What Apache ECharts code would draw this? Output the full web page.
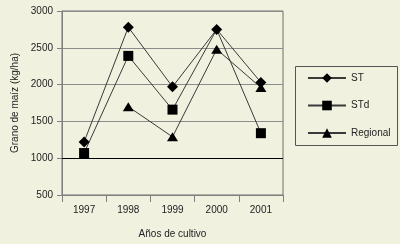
<!DOCTYPE html>
<html><head><meta charset="utf-8">
<script src="https://cdn.jsdelivr.net/npm/echarts@6/dist/echarts.min.js"></script>
<style>html,body{margin:0;padding:0;background:#f1f1e0;}#c{width:400px;height:244px;}</style>
</head><body><div id="c"></div>
<script>
var years = ['1997','1998','1999','2000','2001'];
var ST = [1220, 2780, 1970, 2750, 2030];
var STd = [1070, 2390, 1660, 2750, 1340];
var Regional = [null, 1700, 1290, 2480, 1960];
var yTicks = {min: 500, max: 3000, step: 500};
var refLine = 1000;

var font = 'Liberation Sans, Arial, sans-serif';
var chart = echarts.init(document.getElementById('c'), null, {renderer:'canvas'});
function ser(name, data, sym, size, z){
  return {name:name, type:'line', data:data, symbol:sym, symbolSize:size, z:z,
    connectNulls:false, animation:false,
    lineStyle:{color:'#3a3a3a', width:1},
    itemStyle:{color:'#000', borderWidth:0}};
}
var s1 = ser('ST', ST, 'diamond', [11,11], 5);
s1.markLine = {silent:true, symbol:'none', label:{show:false},
  lineStyle:{color:'#000', width:1.2, type:'solid'}, data:[{yAxis:refLine}]};
var s2 = ser('STd', STd, 'rect', [10,10], 3);
// the STd marker of 2000 is hidden beneath the ST diamond in the reference
s2.data = STd.map(function(v, i){ return i === 3 ? {value:v, symbol:'none'} : v; });
chart.setOption({
  backgroundColor:'#f1f1e0',
  animation:false,
  textStyle:{fontFamily:font},
  grid:{left:62, right:117, top:11, bottom:49, show:true, borderColor:'#6e6e6e', borderWidth:1},
  xAxis:{type:'category', data:years, boundaryGap:true,
    name:'Años de cultivo', nameLocation:'middle', nameGap:34,
    nameTextStyle:{fontSize:10, color:'#222', fontFamily:font},
    axisLine:{lineStyle:{color:'#808080', width:1}},
    axisTick:{show:true, alignWithLabel:false, length:7, lineStyle:{color:'#808080'}},
    axisLabel:{fontSize:10, color:'#222', margin:10, fontFamily:font},
    splitLine:{show:false}},
  yAxis:{type:'value', min:yTicks.min, max:yTicks.max, interval:yTicks.step,
    name:'Grano de maíz (kg/ha)', nameLocation:'middle', nameGap:40, nameRotate:90,
    nameTextStyle:{fontSize:10, color:'#222', fontFamily:font},
    axisLine:{show:true, lineStyle:{color:'#808080'}},
    axisTick:{show:true, length:5, lineStyle:{color:'#808080'}},
    axisLabel:{fontSize:10, color:'#222', margin:9, fontFamily:font,
      formatter:function(v){ return String(v); }},
    splitLine:{show:true, lineStyle:{color:'#8c8c8c', width:1}}},
  legend:{orient:'vertical', left:302, top:68, itemWidth:38, itemHeight:12, itemGap:17.5,
    textStyle:{fontSize:10, color:'#222', fontFamily:font},
    data:['ST','STd','Regional']},
  graphic:[{type:'rect', left:293, top:64, shape:{width:102, height:79},
    style:{fill:'none', stroke:'#555', lineWidth:1}, z:-1}],
  series:[s2, ser('Regional', Regional, 'triangle', [11,9], 4), s1]
});
</script></body></html>
